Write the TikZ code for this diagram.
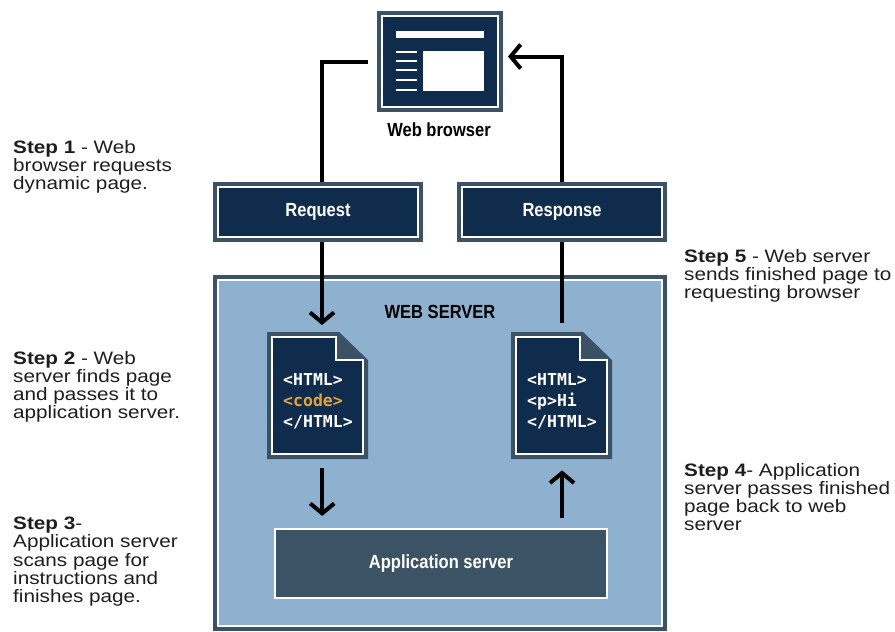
\documentclass[tikz,border=0pt]{standalone}
\usepackage{fontspec}
\setmainfont{Liberation Sans}
\newfontfamily\stepfont[FakeStretch=1.15]{Liberation Sans}
\newfontfamily\labfont[FakeStretch=0.87]{Liberation Sans}
\newfontfamily\codefont{DejaVu Sans Mono}
\usetikzlibrary{arrows.meta,calc}
\definecolor{navy}{HTML}{102C4C}
\definecolor{slate}{HTML}{3B5166}
\definecolor{lightblue}{HTML}{8DB1CF}
\definecolor{appc}{HTML}{3C5365}
\definecolor{codeorange}{HTML}{E3A53A}
\definecolor{txt}{HTML}{1E1E1E}
\pgfdeclarelayer{bg}
\pgfsetlayers{bg,main}
\tikzset{
  framed/.style={draw=white, line width=2pt, fill=#1, inner sep=0pt, outer sep=0pt,
    anchor=north west, preaction={draw=slate, line width=10pt}},
  framed/.default=navy,
  conn/.style={draw=black, line width=4pt},
  arrowconn/.style={conn, -{Straight Barb[length=10pt,width=24pt]}},
  boxlabel/.style={font=\labfont\bfseries\fontsize{19}{22}\selectfont},
  steptext/.style={font=\stepfont\fontsize{18}{18.2}\selectfont, text=txt, align=left,
    anchor=north west, inner sep=0pt},
  codetext/.style={font=\codefont\bfseries\fontsize{16.5}{21}\selectfont, text=white,
    align=left, anchor=west, inner sep=0pt}
}
\begin{document}
\begin{tikzpicture}[x=1pt,y=-1pt]
\useasboundingbox (0,0) rectangle (895,632);
\begin{pgfonlayer}{bg}
\fill[white] (0,0) rectangle (895,632);
% web server
\node[framed=lightblue, minimum width=444pt, minimum height=346pt] (ws) at (218,280) {};
\end{pgfonlayer}
\node[boxlabel, text=black] (wslabel) at (440,312) {WEB SERVER};

% browser
\node[framed, minimum width=116pt, minimum height=91pt] (browser) at (382,16) {};
\fill[white] (396,31) rectangle (484,38);
\foreach \yy in {52,61,70,80,90} \fill[white] (396,\yy-1.2) rectangle (417,\yy+1.2);
\fill[white] (423,51) rectangle (484,91);
\node[boxlabel, text=black] (blabel) at (439,130) {Web browser};

% request / response
\node[framed, minimum width=200pt, minimum height=50pt, boxlabel, text=white] (req) at (218,187) {Request};
\node[framed, minimum width=200pt, minimum height=50pt, boxlabel, text=white] (resp) at (462,187) {Response};

% application server
\node[draw=white, line width=2pt, fill=appc, anchor=north west, minimum width=332pt, minimum height=69pt,
  inner sep=0pt, boxlabel, text=white] (app) at (274,528) {Application server};

% documents
\foreach \dx/\nm in {267/docL, 511/docR}{
  \begin{scope}[shift={(\dx,332)}]
    \fill[slate] (0,0) -- (72,0) -- (101,28) -- (101,127) -- (0,127) -- cycle;
    \draw[white, line width=2pt, fill=navy] (5,5) -- (69,5) -- (69,28) -- (96,28) -- (96,122) -- (5,122) -- cycle;
  \end{scope}
  \node[minimum width=101pt, minimum height=127pt, anchor=north west, inner sep=0pt] (\nm) at (\dx,332) {};
}
\node[codetext] (codeL) at (283,401) {<HTML>\\\textcolor{codeorange}{<code>}\\</HTML>};
\node[codetext] (codeR) at (527,401) {<HTML>\\<p>Hi\\</HTML>};

% connectors
\coordinate (rq) at ([xshift=4pt]req.south);
\coordinate (dtop) at ([yshift=7pt]docL.north);
\coordinate (dbot) at ([xshift=4.5pt,yshift=-9pt]docL.south);
\coordinate (aptop) at ([yshift=12pt]app.north);
\coordinate (apup) at ([yshift=10pt]app.north);
\coordinate (rtop) at ([yshift=9pt]docR.north);
\begin{pgfonlayer}{bg}
\draw[conn] ([xshift=4pt]req.north) |- ([xshift=-14pt]browser.west);
\draw[arrowconn] (rq) -- (rq |- dtop);
\draw[conn] (resp.south |- rtop) -- (resp.south);
\draw[arrowconn] (resp.north) |- ([xshift=10pt,yshift=5pt]browser.east);
\end{pgfonlayer}
\draw[arrowconn] (dbot) -- (dbot |- aptop);
\draw[arrowconn] (apup -| resp.south) -- ([yshift=-11pt]resp.south |- docR.south);

% step texts
\node[steptext] (s1) at (13,140) {\textbf{Step 1} - Web\\browser requests\\dynamic page.};
\node[steptext] (s2) at (13,351) {\textbf{Step 2} - Web\\server finds page\\and passes it to\\application server.};
\node[steptext] (s3) at (13,517) {\textbf{Step 3}-\\Application server\\scans page for\\instructions and\\finishes page.};
\node[steptext] (s5) at (684,249) {\textbf{Step 5} - Web server\\sends finished page to\\requesting browser};
\node[steptext] (s4) at (684,463) {\textbf{Step 4}- Application\\server passes finished\\page back to web\\server};
\end{tikzpicture}
\end{document}
